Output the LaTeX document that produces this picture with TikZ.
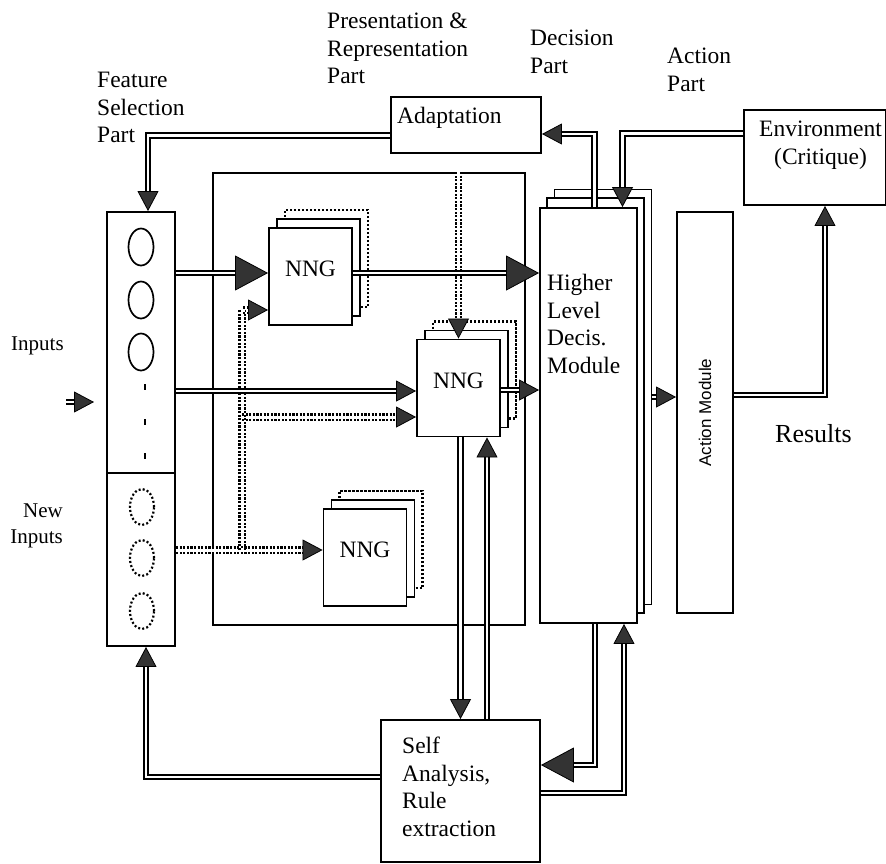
\documentclass[tikz,border=0pt]{standalone}
\usepackage{graphicx}
\usepackage{fontspec}
\setmainfont{Liberation Serif}
\newfontfamily\actfont{Liberation Sans}
\usetikzlibrary{shadows,positioning,arrows.meta}
\newcommand\partsize{\fontsize{23.5pt}{27.5pt}\selectfont}
\newcommand\inputsize{\fontsize{21pt}{26pt}\selectfont}
\newcommand\resultsize{\fontsize{26pt}{30pt}\selectfont}
\tikzset{box/.style={draw, line width=1.9pt, fill=white, inner sep=0pt},
        nng/.style={box, minimum width=83pt, minimum height=97pt,
                    text height=8pt, text depth=8pt,
                    copy shadow={shadow xshift=16pt, shadow yshift=18pt, fill=white,
                                 draw=black, line width=2.2pt, dash pattern=on 2.2pt off 1.8pt},
                    copy shadow={shadow xshift=8pt, shadow yshift=9pt, fill=white,
                                 draw=black, line width=1.8pt}},
        hldstack/.style={box, minimum width=97pt, minimum height=415pt,
                    copy shadow={shadow xshift=14pt, shadow yshift=19pt, fill=white,
                                 draw=black, line width=1pt},
                    copy shadow={shadow xshift=7pt, shadow yshift=10pt, fill=white,
                                 draw=black, line width=1.2pt}},
        partlabel/.style={inner sep=0pt, align=left, anchor=north west},
        link/.style={draw, line width=1.7pt, double=white, double distance=2.8pt},
        dotlink/.style={link, line width=2.2pt, double distance=3pt, dash pattern=on 2.2pt off 1.4pt},
        arrowhd/.style={-{Triangle[length=20pt, width=21pt, fill=black!80, line width=0.8pt]}},
        bigarrowhd/.style={-{Triangle[length=33pt, width=35pt, fill=black!80, line width=0.8pt]}},
        every node/.style={font=\partsize}
        }

\begin{document}
\begin{tikzpicture}[x=1pt, y=-1pt]
    \useasboundingbox (0,0) rectangle (886,863);

    \node[box, minimum width=312pt, minimum height=452pt] (pres) at (369,399) {};
    \node[box, minimum width=68pt, minimum height=434pt] (fsel) at (141,429) {};
    \node[box, minimum width=150pt, minimum height=56pt] (adapt) at (466,125) {};
    \node[box, minimum width=142pt, minimum height=95pt] (env) at (815,157.5) {};
    \node[hldstack] (hld) at (588.5,415.5) {};
    \node[box, minimum width=56pt, minimum height=401pt,
          font=\actfont\fontsize{17pt}{19pt}\selectfont] (act) at (705,412.5)
          {\rotatebox{90}{Action Module}};
    \node[box, minimum width=159pt, minimum height=142pt] (self) at (460.5,791) {};

    \node[nng] (nng1) at (310.5,276.5) {NNG};
    \node[nng] (nng2) at (458.5,388) {NNG};
    \node[nng] (nng3) at (365,557.5) {NNG};

    \draw[line width=1.9pt] (fsel.west |- 0,473) -- (fsel.east |- 0,473);
    \foreach \y in {247,300,352}
        \draw[line width=1.7pt] (141,\y) ellipse [x radius=12.5pt, y radius=18.5pt];
    \foreach \y in {387,422,456}
        \draw[line width=1.6pt] (145,\y-3) -- (145,\y+3);
    \foreach \y in {507,558,611}
        \draw[line width=2.2pt, dash pattern=on 2pt off 2.2pt] (142,\y) ellipse [x radius=12pt, y radius=18pt];

    \node[partlabel] (featlbl) at (97,72) {Feature\\Selection\\Part};
    \node[partlabel] (preslbl) at (327,13) {Presentation \&\\Representation\\Part};
    \node[partlabel] (declbl) at (530,30) {Decision\\Part};
    \node[partlabel] (actlbl) at (667,48) {Action\\Part};
    \node[partlabel, font=\inputsize] (inlbl) at (11,337) {Inputs};
    \node[partlabel, font=\inputsize, align=right, anchor=north east] (newlbl) at (63,504) {New\\Inputs};
    \node[partlabel, font=\resultsize] (reslbl) at (775,424) {Results};
    \node[partlabel] (adaptlbl) at (397,107) {Adaptation};
    \node[partlabel, align=center, anchor=north] (envlbl) at (820.5,121) {Environment\\(Critique)};
    \node[partlabel] (hldlbl) at (547,274) {Higher\\Level\\Decis.\\Module};
    \node[partlabel] (selflbl) at (402,737) {Self\\Analysis,\\Rule\\extraction};

    \coordinate (split) at (242,550);
    \coordinate (hldout) at (652,397);
    \coordinate (inl) at (66,402);
    \coordinate (inr) at (94,402);

    \draw[link, arrowhd] (inl) -- (inr);
    \draw[link, arrowhd] ([yshift=-10.5pt]adapt.west) -| ([xshift=7pt]fsel.north);
    \draw[link, arrowhd] ([xshift=6pt]hld.north) |- ([yshift=-9pt]adapt.east);
    \draw[link, arrowhd] ([yshift=24pt]env.west) -| ([xshift=34pt]hld.north);

    \draw[dotlink, arrowhd] (fsel.east |- split) -- (nng3.west |- split);
    \draw[dotlink, arrowhd] (split) |- (nng1.west |- 0,310);
    \draw[dotlink, arrowhd] (split |- 0,417) -- (nng2.west |- 0,417);
    \draw[dotlink, arrowhd] (nng2.north |- pres.north) -- (nng2.north);

    \draw[link, bigarrowhd] (fsel.east |- 0,273) -- (nng1.west |- 0,273);
    \draw[link, bigarrowhd] (nng1.east |- 0,273) -- (hld.west |- 0,273);
    \draw[link, arrowhd] (fsel.east |- 0,391) -- (nng2.west |- 0,391);
    \draw[link, arrowhd] (nng2.east |- 0,390) -- (hld.west |- 0,390);

    \draw[link, arrowhd] (self.north |- nng2.south) -- (self.north);
    \draw[link, arrowhd] (self.north -| 487,0) -- (nng2.south -| 487,0);
    \draw[link, bigarrowhd] (hld.south -| 595,0) |- (self.east |- 0,765);
    \draw[link, arrowhd] (self.east |- 0,793) -| (hld.south -| 624,0);
    \draw[link, arrowhd] (self.west |- 0,777) -| (fsel.south -| 146,0);

    \draw[link, arrowhd] (hldout) -- (act.west |- hldout);
    \draw[link, arrowhd] (act.east |- 0,395) -| (env.south -| 825,0);

\end{tikzpicture}
\end{document}
